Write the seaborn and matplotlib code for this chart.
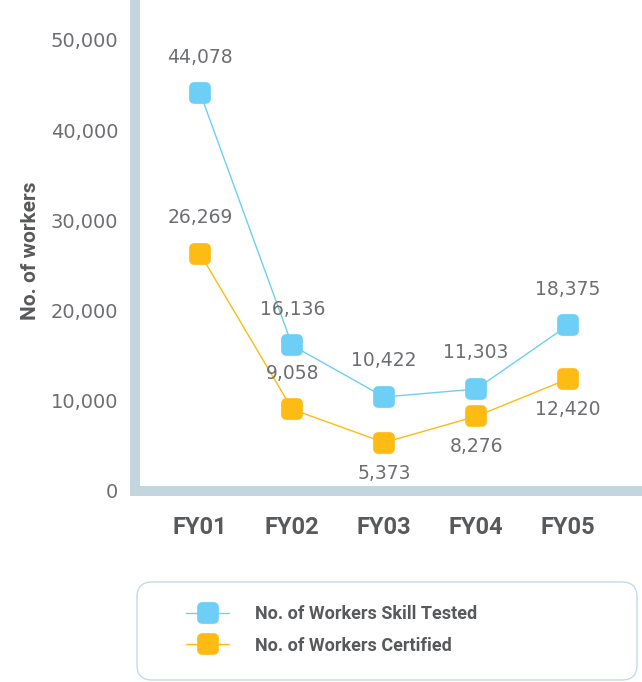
import matplotlib
matplotlib.use('Agg')
import numpy as np
import pandas as pd
import matplotlib.pyplot as plt
import seaborn as sns
from matplotlib.markers import MarkerStyle
from matplotlib.patches import FancyBboxPatch
from matplotlib.transforms import IdentityTransform
from matplotlib.ticker import MultipleLocator, FuncFormatter

sns.set_style('white')
plt.rcParams['font.family'] = ['Roboto', 'DejaVu Sans']

# data
years = ['FY01', 'FY02', 'FY03', 'FY04', 'FY05']
skill_tested = [44078, 16136, 10422, 11303, 18375]
certified = [26269, 9058, 5373, 8276, 12420]
series_names = ['No. of Workers Skill Tested', 'No. of Workers Certified']

# where the value label goes: above or below the marker
blue_side = ['above', 'above', 'above', 'above', 'above']
orange_side = ['above', 'above', 'below', 'below', 'below']

blue = '#6dcff6'
orange = '#fdbb13'
spine_col = '#c3d6e0'
tick_col = '#c7dde9'
light_txt = '#6d6e71'
bold_txt = '#58595b'
num_font = 'DejaVu Sans'

fig = plt.figure(figsize=(6.42, 6.82), dpi=100)
ax = fig.add_axes([135/642, 1 - 491/682, 502/642, 491/682])

x = np.arange(len(years))
ms = MarkerStyle('s', joinstyle='round')

sns.lineplot(x=x, y=skill_tested, color=blue, marker=ms, markersize=9,
             markeredgewidth=7, markeredgecolor=blue, linewidth=1, ax=ax)
sns.lineplot(x=x, y=certified, color=orange, marker=ms, markersize=9,
             markeredgewidth=7, markeredgecolor=orange, linewidth=1, ax=ax)

# value labels
for vals, sides in [(skill_tested, blue_side), (certified, orange_side)]:
    for i, (v, s) in enumerate(zip(vals, sides)):
        dy = 26 if s == 'above' else -22
        ax.annotate(f'{v:,}', (i, v), xytext=(0, dy), textcoords='offset points',
                    ha='center', va='center', fontsize=13.5, color=light_txt,
                    family=num_font)

ax.set_xlim(-0.71, 4.75)
ax.set_ylim(0, 54430)
ax.set_xticks(x)
ax.set_xticklabels(years, fontsize=17, fontweight='bold', color=bold_txt)
ax.tick_params(axis='x', length=0, pad=18)

ax.yaxis.set_major_locator(MultipleLocator(10000))
ax.yaxis.set_minor_locator(MultipleLocator(5000))
ax.yaxis.set_major_formatter(FuncFormatter(lambda v, p: f'{int(v):,}'))
ax.tick_params(axis='y', which='both', direction='in', length=16, width=1,
               color=tick_col, pad=12, labelsize=14, labelcolor=light_txt)
for lab in ax.get_yticklabels():
    lab.set_family(num_font)

ax.set_ylabel('No. of workers', fontsize=15, fontweight='bold', color=bold_txt)
ax.yaxis.set_label_coords(-0.19, 0.49)

for side in ['top', 'right']:
    ax.spines[side].set_visible(False)
for side in ['left', 'bottom']:
    ax.spines[side].set_linewidth(7.2)
    ax.spines[side].set_color(spine_col)
    ax.spines[side].set_zorder(0.5)

# legend box
box = FancyBboxPatch((137, 2), 500, 98, boxstyle='round,pad=0,rounding_size=15',
                     transform=IdentityTransform(), fill=False,
                     edgecolor='#c3dbe8', linewidth=1)
fig.add_artist(box)

handles = ax.get_lines()[:2]
leg = fig.legend(handles, series_names, loc='center left',
                 bbox_to_anchor=(186/642, 1 - 630/682), frameon=False,
                 borderpad=0, borderaxespad=0, handlelength=2.4,
                 handletextpad=1.4, labelspacing=0.75, numpoints=1,
                 prop={'size': 13, 'weight': 'bold'})
for t in leg.get_texts():
    t.set_color(bold_txt)

fig.savefig('out.png', dpi=100)
